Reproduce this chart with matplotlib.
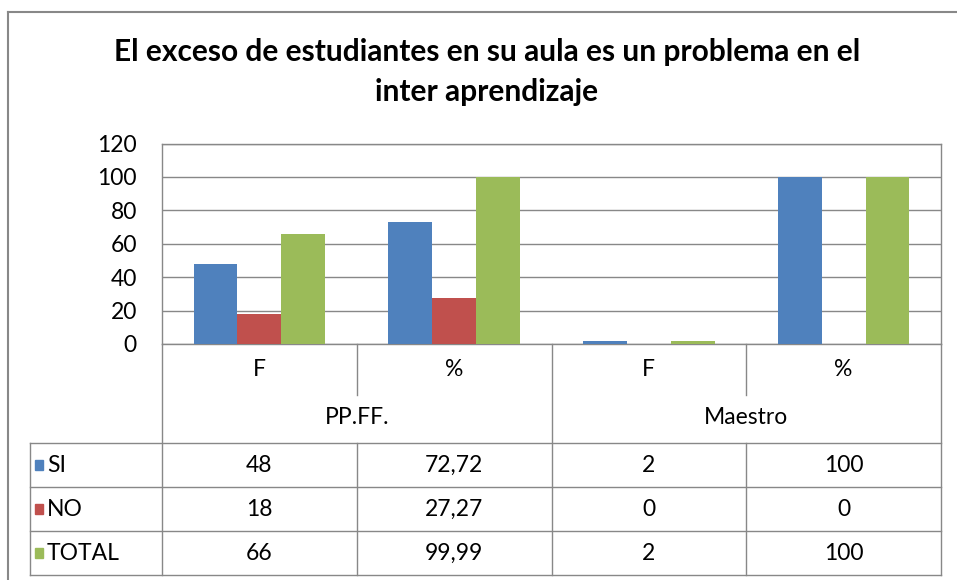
import matplotlib
matplotlib.use("Agg")
import matplotlib.pyplot as plt
from matplotlib.lines import Line2D
from matplotlib.patches import Rectangle
import numpy as np

plt.rcParams['font.family'] = ['Lato', 'DejaVu Sans']

# data
categories = ["F", "%", "F", "%"]
groups = ["PP.FF.", "Maestro"]
series_names = ["SI", "NO", "TOTAL"]
si = [48, 72.72, 2, 100]
no = [18, 27.27, 0, 0]
total = [66, 99.99, 2, 100]
colors = ["#4F81BD", "#C0504D", "#9BBB59"]
title = "El exceso de estudiantes en su aula es un problema en el\ninter aprendizaje"

W, H = 957, 580
fig = plt.figure(figsize=(W / 100, H / 100), dpi=100)

def fx(px):
    return px / W

def fy(py):
    return 1 - py / H

grid_col = "#888888"
fs = 16.5

# plot area in pixels
left, right, top, bottom = 162, 941, 143.5, 344
ax = fig.add_axes([fx(left), fy(bottom), fx(right - left), (bottom - top) / H])

x = np.arange(len(categories))
bw = 0.225
for i, (vals, c) in enumerate(zip([si, no, total], colors)):
    ax.bar(x + (i - 1) * bw, vals, bw, color=c, zorder=3)

ax.set_xlim(-0.5, 3.5)
ax.set_ylim(0, 120)
ax.set_yticks(range(0, 121, 20))
ax.set_xticks([])
ax.grid(axis='y', color=grid_col, lw=1, zorder=0)
for s in ax.spines.values():
    s.set_color(grid_col)
    s.set_linewidth(1)
ax.tick_params(axis='y', length=0, labelsize=fs, pad=18, colors="#000000")

# title
fig.text(fx(487), fy(52), title.split("\n")[0], ha='center', va='center',
         fontsize=21.5, fontweight='bold')
fig.text(fx(487), fy(92), title.split("\n")[1], ha='center', va='center',
         fontsize=21.5, fontweight='bold')

# outer frame
fig.add_artist(Line2D([fx(8), fx(8)], [fy(12), fy(580)], color=grid_col, lw=1.5))
fig.add_artist(Line2D([fx(8), fx(957)], [fy(12), fy(12)], color=grid_col, lw=1.5))

def hline(y, x0, x1):
    fig.add_artist(Line2D([fx(x0), fx(x1)], [fy(y), fy(y)], color=grid_col, lw=1))

def vline(x0, y0, y1):
    fig.add_artist(Line2D([fx(x0), fx(x0)], [fy(y0), fy(y1)], color=grid_col, lw=1))

# data table
col_w = (right - left) / len(categories)
col_edges = [left + i * col_w for i in range(len(categories) + 1)]
row_top = 443
row_h = 44
tab_left = 30

hline(row_top, tab_left, right)
for r in range(1, 4):
    hline(row_top + r * row_h, tab_left, right)
vline(tab_left, row_top, row_top + 3 * row_h)
vline(left, bottom, row_top + 3 * row_h)
vline(right, bottom, row_top + 3 * row_h)
vline(col_edges[2], bottom, row_top + 3 * row_h)
for e in [col_edges[1], col_edges[3]]:
    vline(e, bottom, 395)
    vline(e, row_top, row_top + 3 * row_h)

for i, cat in enumerate(categories):
    cx = (col_edges[i] + col_edges[i + 1]) / 2
    fig.text(fx(cx), fy(369), cat, ha='center', va='center', fontsize=fs)
for g, name in enumerate(groups):
    cx = (col_edges[2 * g] + col_edges[2 * g + 2]) / 2
    fig.text(fx(cx), fy(418), name, ha='center', va='center', fontsize=fs)

for r, (name, vals, c) in enumerate(zip(series_names, [si, no, total], colors)):
    cy = row_top + r * row_h + row_h / 2
    fig.add_artist(Rectangle((fx(35), fy(cy + 5)), fx(8), 10 / H, color=c))
    fig.text(fx(47), fy(cy), name, ha='left', va='center', fontsize=fs)
    for i, v in enumerate(vals):
        cx = (col_edges[i] + col_edges[i + 1]) / 2
        fig.text(fx(cx), fy(cy), f"{v:g}".replace('.', ','), ha='center',
                 va='center', fontsize=fs)

fig.savefig("out.png", dpi=100)
